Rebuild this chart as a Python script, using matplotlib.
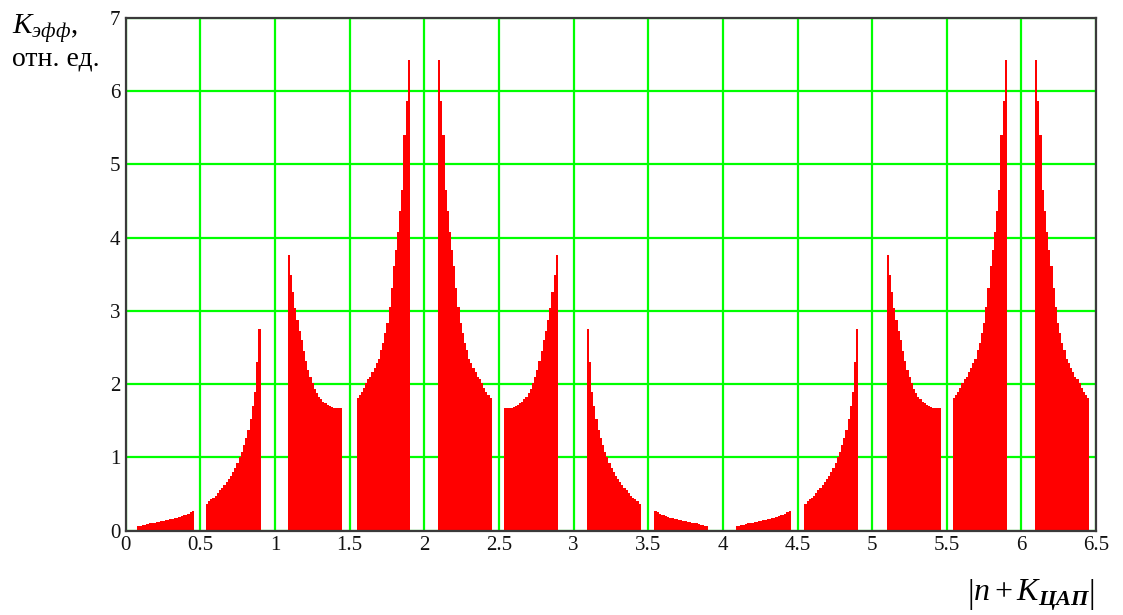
import numpy             as np
import matplotlib.pyplot as plt


# segment bounds along |n + K_DAC| (bars inside each segment are evenly spaced)
seg_start   = [0.078, 0.536, 1.086, 1.546, 2.093, 2.533, 3.088, 3.541, 4.088, 4.546, 5.098, 5.540, 6.092]
seg_end     = [0.458, 0.903, 1.446, 1.903, 2.451, 2.895, 3.450, 3.903, 4.455, 4.908, 5.462, 5.903, 6.456]

# K_eff, one list per distinct segment shape
k_low       = [0.06, 0.07, 0.08, 0.085, 0.09, 0.10, 0.105, 0.11, 0.12, 0.125, 0.13, 0.135, 0.14,
               0.15, 0.155, 0.16, 0.17, 0.18, 0.19, 0.20, 0.21, 0.22, 0.235, 0.25, 0.27]
k_rise1     = [0.37, 0.40, 0.43, 0.45, 0.48, 0.51, 0.55, 0.58, 0.62, 0.66, 0.70, 0.75, 0.80,
               0.86, 0.93, 1.00, 1.08, 1.17, 1.27, 1.38, 1.52, 1.70, 1.90, 2.30, 2.75]
k_fall1     = [3.77, 3.49, 3.26, 3.04, 2.88, 2.72, 2.61, 2.45, 2.32, 2.20, 2.10, 2.01, 1.93,
               1.88, 1.83, 1.80, 1.76, 1.74, 1.72, 1.70, 1.69, 1.68, 1.68, 1.68, 1.68]
k_rise2     = [1.81, 1.85, 1.90, 1.95, 2.01, 2.07, 2.10, 2.16, 2.22, 2.29, 2.34, 2.47, 2.56,
               2.70, 2.83, 3.06, 3.31, 3.61, 3.83, 4.08, 4.36, 4.65, 5.40, 5.86, 6.43]

# the picture is mirrored about 2 and repeats with period 4
seg_values  = [k_low, k_rise1, k_fall1, k_rise2, k_rise2[::-1], k_fall1[::-1], k_rise1[::-1], k_low[::-1],
               k_low, k_rise1, k_fall1, k_rise2, k_rise2[::-1]]

x_ticks     = [0, 0.5, 1, 1.5, 2, 2.5, 3, 3.5, 4, 4.5, 5, 5.5, 6, 6.5]
x_labels    = ['0', '0.5', '1', '1.5', '2', '2.5', '3', '3.5', '4', '4.5', '5', '5.5', '6', '6.5']
y_ticks     = [0, 1, 2, 3, 4, 5, 6, 7]


plt.rcParams['font.family']         = ['Liberation Serif', 'DejaVu Serif']
plt.rcParams['mathtext.fontset']    = 'custom'
plt.rcParams['mathtext.rm']         = 'Liberation Serif'
plt.rcParams['mathtext.it']         = 'Liberation Serif:italic'
plt.rcParams['mathtext.bf']         = 'Liberation Serif:italic:bold'

fig = plt.figure(figsize=(11.23, 6.15), dpi=100)
ax  = fig.add_axes([0.112, 0.137, 0.864, 0.834])

# each segment is a run of adjacent bars -> one solid stepped area
for s, e, vals in zip(seg_start, seg_end, seg_values):
    edges   = np.linspace(s, e, len(vals) + 1)
    heights = np.append(vals, vals[-1])
    ax.fill_between(edges, 0, heights, step='post', color='#ff0000', linewidth=0, zorder=2)

ax.set_xlim(0, 6.5)
ax.set_ylim(0, 7)
ax.set_xticks(x_ticks)
ax.set_xticklabels(x_labels)
ax.set_yticks(y_ticks)
ax.tick_params(length=0, labelsize=15, pad=4, colors='#111111')
ax.grid(color='#00ff00', linewidth=1.6, zorder=0)
ax.set_axisbelow(True)

for sp in ax.spines.values():
    sp.set_color('#3a3a3a')
    sp.set_linewidth(1.6)
    sp.set_zorder(3)

# axis captions in Mathcad style
fig.text(0.011, 0.945, r'$K_{эфф}$,', fontsize=21)
fig.text(0.011, 0.894, 'отн. ед.', fontsize=20)
fig.text(0.861, 0.022, r'$\left|n + K_{\mathbf{ЦАП}}\right|$', fontsize=23)

fig.savefig('out.png', dpi=100)
